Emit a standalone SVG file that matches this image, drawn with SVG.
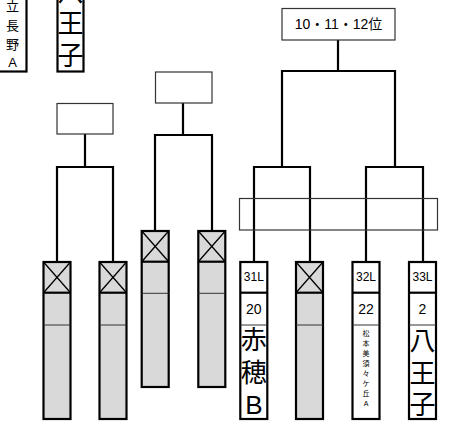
<svg xmlns="http://www.w3.org/2000/svg" width="450" height="430" viewBox="0 0 450 430">
<style>
.ln{stroke:#000;stroke-width:2.2;fill:none;stroke-linecap:square}
.box{stroke:#000;stroke-width:2.2}
.g{fill:#d9d9d9}
.w{fill:#fff}
.thick{stroke:#000;stroke-width:2.2}
.thin{stroke:#333;stroke-width:1}
.lbl{fill:#fff;stroke:#333;stroke-width:1.2}
.x{stroke:#000;stroke-width:1.3}
text{font-family:"Liberation Sans","Noto Sans CJK JP",sans-serif;fill:#000;text-anchor:middle;dominant-baseline:central}
.s12{font-size:12px}
.s13{font-size:13px}
.s14{font-size:14px}
.s26{font-size:26px}
.s7{font-size:7px}
</style>
<rect width="450" height="430" fill="#fff"/>
<g id="connectors">
<path class="ln" d="M85 134V167M57 167H113M57 167V262M113 167V262"/>
<path class="ln" d="M183 103V135M155 135H212M155 135V230M212 135V230"/>
<path class="ln" d="M338 40V71M282 71H395M282 71V167M395 71V167M254 167H310M366 167H423M254 167V262M310 167V262M366 167V262M423 167V262"/>
</g>
<g id="label-top"><rect class="lbl" x="282" y="8.5" width="113" height="31.5"/><text class="s14" x="338.5" y="24">10・11・12位</text></g>
<g id="label-left"><rect class="lbl" x="57" y="103.5" width="56" height="30.5"/></g>
<g id="label-mid"><rect class="lbl" x="155.5" y="72" width="56.5" height="31"/></g>
<g id="label-wide"><rect x="239.5" y="198.5" width="198" height="31.5" fill="none" stroke="#333" stroke-width="1.2"/></g>
<g id="team-tl1">
<rect class="box w" x="-1.5" y="-100" width="28" height="171.5"/>
<text class="s13"><tspan x="12.5" y="6">立</tspan><tspan x="12.5" y="25">長</tspan><tspan x="12.5" y="44">野</tspan><tspan x="12.5" y="62">A</tspan></text>
</g>
<g id="team-tl2">
<rect class="box w" x="57.5" y="-100" width="26" height="171.5"/>
<text class="s26"><tspan x="70.5" y="-8">八</tspan><tspan x="70.5" y="24">王</tspan><tspan x="70.5" y="56">子</tspan></text>
</g>
<g id="slot1">
<rect class="box g" x="43.5" y="262" width="27" height="157"/>
<line class="thin" x1="43.5" y1="325" x2="70.5" y2="325"/>
<path class="x" d="M43.5 262L70.5 292.7M70.5 262L43.5 292.7"/>
<line class="thick" x1="43.5" y1="292.7" x2="70.5" y2="292.7"/>
</g>
<g id="slot2">
<rect class="box g" x="99.5" y="262" width="27" height="157"/>
<line class="thin" x1="99.5" y1="325" x2="126.5" y2="325"/>
<path class="x" d="M99.5 262L126.5 292.7M126.5 262L99.5 292.7"/>
<line class="thick" x1="99.5" y1="292.7" x2="126.5" y2="292.7"/>
</g>
<g id="slot3">
<rect class="box g" x="141.7" y="231" width="27" height="156"/>
<line class="thin" x1="141.7" y1="293.3" x2="168.7" y2="293.3"/>
<path class="x" d="M141.7 231L168.7 261.7M168.7 231L141.7 261.7"/>
<line class="thick" x1="141.7" y1="261.7" x2="168.7" y2="261.7"/>
</g>
<g id="slot4">
<rect class="box g" x="198.3" y="231" width="27" height="156"/>
<line class="thin" x1="198.3" y1="293.3" x2="225.3" y2="293.3"/>
<path class="x" d="M198.3 231L225.3 261.7M225.3 231L198.3 261.7"/>
<line class="thick" x1="198.3" y1="261.7" x2="225.3" y2="261.7"/>
</g>
<g id="slot-31L">
<rect class="box w" x="240.3" y="262" width="27" height="157"/>
<line class="thick" x1="240.3" y1="292.7" x2="267.3" y2="292.7"/>
<line class="thin" x1="240.3" y1="325" x2="267.3" y2="325" stroke="#888"/>
<text class="s12" x="253.8" y="277">31L</text>
<text class="s14" x="253.8" y="309">20</text>
<text class="s26"><tspan x="253.8" y="340">赤</tspan><tspan x="253.8" y="372.5">穂</tspan><tspan x="253.8" y="405">B</tspan></text>
</g>
<g id="slot-x">
<rect class="box g" x="296" y="262" width="27" height="157"/>
<line class="thin" x1="296" y1="325" x2="323" y2="325"/>
<path class="x" d="M296 262L323 292.7M323 262L296 292.7"/>
<line class="thick" x1="296" y1="292.7" x2="323" y2="292.7"/>
</g>
<g id="slot-32L">
<rect class="box w" x="352.5" y="262" width="27" height="157"/>
<line class="thick" x1="352.5" y1="292.7" x2="379.5" y2="292.7"/>
<line class="thin" x1="352.5" y1="325" x2="379.5" y2="325" stroke="#888"/>
<text class="s12" x="366" y="277">32L</text>
<text class="s14" x="366" y="309">22</text>
<text class="s7"><tspan x="366" y="333">松</tspan><tspan x="366" y="343">本</tspan><tspan x="366" y="353">美</tspan><tspan x="366" y="363">須</tspan><tspan x="366" y="373">々</tspan><tspan x="366" y="383">ケ</tspan><tspan x="366" y="393">丘</tspan><tspan x="366" y="403">A</tspan></text>
</g>
<g id="slot-33L">
<rect class="box w" x="409" y="262" width="27" height="157"/>
<line class="thick" x1="409" y1="292.7" x2="436" y2="292.7"/>
<line class="thin" x1="409" y1="325" x2="436" y2="325" stroke="#888"/>
<text class="s12" x="422.5" y="277">33L</text>
<text class="s14" x="422.5" y="309">2</text>
<text class="s26"><tspan x="422.5" y="340.5">八</tspan><tspan x="422.5" y="373.5">王</tspan><tspan x="422.5" y="404.5">子</tspan></text>
</g>
</svg>
